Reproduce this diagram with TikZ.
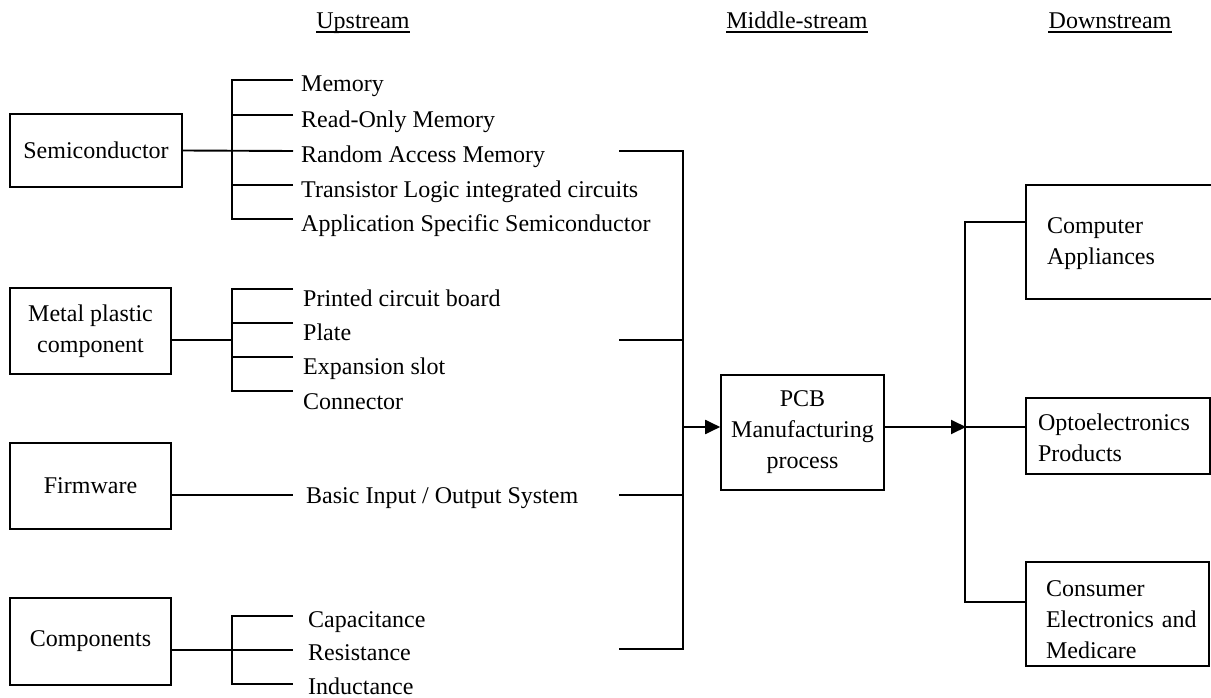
\documentclass[tikz,border=0pt]{standalone}
\usepackage{fontspec}
\setmainfont{Liberation Serif}
\usetikzlibrary{arrows.meta}
\newcommand\myfs{\fontsize{24}{31}\selectfont}
\tikzset{
  box/.style={draw, line width=1.6pt, inner sep=0pt, align=center, font=\myfs},
  rbox/.style={draw, line width=1.6pt, inner ysep=0pt, align=left, font=\myfs},
  lbl/.style={anchor=base west, inner sep=0pt, font=\myfs},
  hdr/.style={anchor=base, inner sep=0pt, font=\myfs},
  conn/.style={line width=1.9pt},
  arr/.style={conn, -{Triangle[length=15pt,width=14pt]}},
  uline/.style={line width=1.3pt}
}
\begin{document}
\begin{tikzpicture}[x=1pt,y=-1pt]
\useasboundingbox (0,0) rectangle (1211,698);

% headers
\node[hdr] (hup) at (363,29) {Upstream};
\node[hdr] (hmid) at (797,29) {Middle-stream};
\node[hdr] (hdown) at (1110,29) {Downstream};
\foreach \h in {hup,hmid,hdown}
  \draw[uline] ([yshift=-3pt]\h.base west) -- ([yshift=-3pt]\h.base east);

% left boxes
\node[box, minimum width=172pt, minimum height=73pt] (semi) at (96,150.5) {Semiconductor};
\node[box, minimum width=161pt, minimum height=86pt] (metal) at (90.5,331) {Metal plastic\\component};
\node[box, minimum width=161pt, minimum height=86pt] (firm) at (90.5,486) {Firmware};
\node[box, minimum width=161pt, minimum height=87pt] (comp) at (90.5,641.5) {Components};

% middle box
\node[box, minimum width=163pt, minimum height=115pt] (pcb) at (802.5,432.5) {PCB\\Manufacturing\\process};

% right boxes
\node[rbox, inner xsep=21pt, text width=145pt, minimum height=114pt] (cbox) at (1119.5,242) {\rule{0pt}{20pt}Computer\\Appliances};
\node[rbox, inner xsep=12pt, text width=160pt, minimum height=76pt] (obox) at (1118,436) {\rule{0pt}{20pt}Optoelectronics\\Products};
\node[rbox, inner xsep=20pt, text width=143pt, minimum height=104pt] (ebox) at (1117.5,614) {\rule{0pt}{28pt}Consumer\\\mbox{Electronics and}\\Medicare};

% item labels
\node[lbl] (s1t) at (301,92) {Memory};
\node[lbl] (s2t) at (301,128) {Read-Only Memory};
\node[lbl] (s3t) at (301,163) {Random Access Memory};
\node[lbl] (s4t) at (301,197) {Transistor Logic integrated circuits};
\node[lbl] (s5t) at (301,231) {Application Specific Semiconductor};
\node[lbl] (m1t) at (303,306) {Printed circuit board};
\node[lbl] (m2t) at (303,340) {Plate};
\node[lbl] (m3t) at (303,374) {Expansion slot};
\node[lbl] (m4t) at (303,409) {Connector};
\node[lbl] (f1t) at (306,503) {Basic Input / Output System};
\node[lbl] (c1t) at (308,627) {Capacitance};
\node[lbl] (c2t) at (308,660) {Resistance};
\node[lbl] (c3t) at (308,694) {Inductance};

% bracket coordinates
\coordinate (lv) at (232,0);
\coordinate (s1) at (293,80);
\coordinate (s2) at (293,115);
\coordinate (s3) at (293,151);
\coordinate (s4) at (293,185);
\coordinate (s5) at (293,219);
\coordinate (m1) at (293,289);
\coordinate (m2) at (293,323);
\coordinate (m3) at (293,357);
\coordinate (m4) at (293,391);
\coordinate (mj) at (232,340);
\coordinate (f1) at (293,495);
\coordinate (c1) at (293,616);
\coordinate (c2) at (293,650);
\coordinate (c3) at (293,684);

% semiconductor bracket
\draw[conn] (s1) -- (s1 -| lv) -- (s5 -| lv) -- (s5);
\draw[conn] (s2) -- (s2 -| lv);
\draw[conn] (s4) -- (s4 -| lv);
\draw[conn] (semi.east) -- (s3);
% metal bracket
\draw[conn] (m1) -- (m1 -| lv) -- (m4 -| lv) -- (m4);
\draw[conn] (m2) -- (m2 -| lv);
\draw[conn] (m3) -- (m3 -| lv);
\draw[conn] (mj -| metal.east) -- (mj);
% firmware
\draw[conn] (f1 -| firm.east) -- (f1);
% components bracket
\draw[conn] (c1) -- (c1 -| lv) -- (c3 -| lv) -- (c3);
\draw[conn] (c2 -| comp.east) -- (c2);

% right-hand collector
\coordinate (rv) at (683,0);
\coordinate (r1) at (619,151);
\coordinate (r2) at (619,340);
\coordinate (r3) at (619,495);
\coordinate (r4) at (619,649);
\coordinate (pa) at (683,427);
\draw[conn] (r1) -- (r1 -| rv) -- (r4 -| rv) -- (r4);
\draw[conn] (r2) -- (r2 -| rv);
\draw[conn] (r3) -- (r3 -| rv);
\draw[arr] (pa) -- (pa -| pcb.west);

% downstream distribution
\coordinate (qa) at (966,427);
\coordinate (d1) at (965,222);
\coordinate (d3) at (965,602);
\draw[arr] (qa -| pcb.east) -- (qa);
\draw[conn] (d1 -| cbox.west) -- (d1) -- (d3) -- (d3 -| ebox.west);
\draw[conn] (qa) -- (qa -| obox.west);
\end{tikzpicture}
\end{document}
